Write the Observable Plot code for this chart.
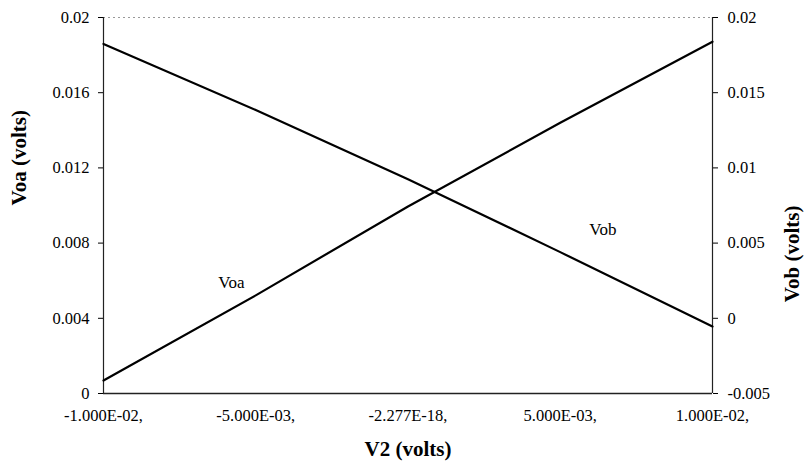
<!DOCTYPE html>
<html><head><meta charset="utf-8">
<script src="https://cdn.jsdelivr.net/npm/d3@7"></script>
<script src="https://cdn.jsdelivr.net/npm/@observablehq/plot@0.6"></script>
<style>body{margin:0;background:#fff}</style>
</head><body><div id="chart"></div>
<script>
const v2 = [-0.01, -0.005, 0, 0.005, 0.01];
const voa = [0.00069, 0.00522, 0.00995, 0.01440, 0.01871];
const vob = [0.01824, 0.01385, 0.00925, 0.00440, -0.00054];
const xTicks = [-0.01, -0.005, 0, 0.005, 0.01];
const xTickLabels = ["-1.000E-02,", "-5.000E-03,", "-2.277E-18,", "5.000E-03,", "1.000E-02,"];
const leftTicks = [0, 0.004, 0.008, 0.012, 0.016, 0.02];
const leftTickLabels = ["0", "0.004", "0.008", "0.012", "0.016", "0.02"];
const rightTicks = [-0.005, 0, 0.005, 0.01, 0.015, 0.02];
const rightTickLabels = ["-0.005", "0", "0.005", "0.01", "0.015", "0.02"];
const leftDomain = [0, 0.02];
const rightDomain = [-0.005, 0.02];
const xDomain = [-0.01, 0.01];

const toLeft = v => (v - rightDomain[0]) / (rightDomain[1] - rightDomain[0]) * (leftDomain[1] - leftDomain[0]) + leftDomain[0];
const voaData = v2.map((x, i) => ({x, y: voa[i]}));
const vobData = v2.map((x, i) => ({x, y: toLeft(vob[i])}));

const chart = Plot.plot({
  width: 804, height: 464,
  marginLeft: 103, marginRight: 92, marginTop: 17, marginBottom: 71,
  style: {fontFamily: "'Liberation Serif', 'Times New Roman', serif", fontSize: "16px", color: "#000", background: "#fff"},
  x: {domain: xDomain},
  y: {domain: leftDomain},
  marks: [
    Plot.ruleY([leftDomain[1]], {stroke: "#999", strokeDasharray: "2,3"}),
    Plot.ruleX([xDomain[0]], {stroke: "#222", strokeWidth: 1.2}),
    Plot.ruleX([xDomain[1]], {stroke: "#222", strokeWidth: 1.2}),
    Plot.ruleY([leftDomain[0]], {stroke: "#222", strokeWidth: 1.5}),
    Plot.axisY(leftTicks, {anchor: "left", tickSize: 5, tickPadding: 9, label: null,
      tickFormat: (d, i) => leftTickLabels[i], fontSize: 16.5}),
    Plot.axisY(rightTicks.map(toLeft), {anchor: "right", tickSize: 5, tickPadding: 10, label: null,
      tickFormat: (d, i) => rightTickLabels[i], fontSize: 16.5}),
    Plot.axisX(xTicks, {anchor: "bottom", tickSize: 0, tickPadding: 16, label: null,
      tickFormat: (d, i) => xTickLabels[i], fontSize: 16.5}),
    Plot.line(voaData, {x: "x", y: "y", stroke: "#000", strokeWidth: 2.2}),
    Plot.line(vobData, {x: "x", y: "y", stroke: "#000", strokeWidth: 2.2}),
    Plot.text(["Voa"], {x: -0.0058, y: 0.0059, fontSize: 17}),
    Plot.text(["Vob"], {x: 0.0064, y: 0.0087, fontSize: 17}),
    Plot.text(["Voa (volts)"], {frameAnchor: "left", dx: -84, rotate: -90, fontWeight: "bold", fontSize: 21}),
    Plot.text(["Vob (volts)"], {frameAnchor: "right", dx: 80, rotate: -90, fontWeight: "bold", fontSize: 21}),
    Plot.text(["V2 (volts)"], {frameAnchor: "bottom", dy: 62, fontWeight: "bold", fontSize: 21})
  ]
});
document.getElementById("chart").appendChild(chart);
</script>
</body></html>
